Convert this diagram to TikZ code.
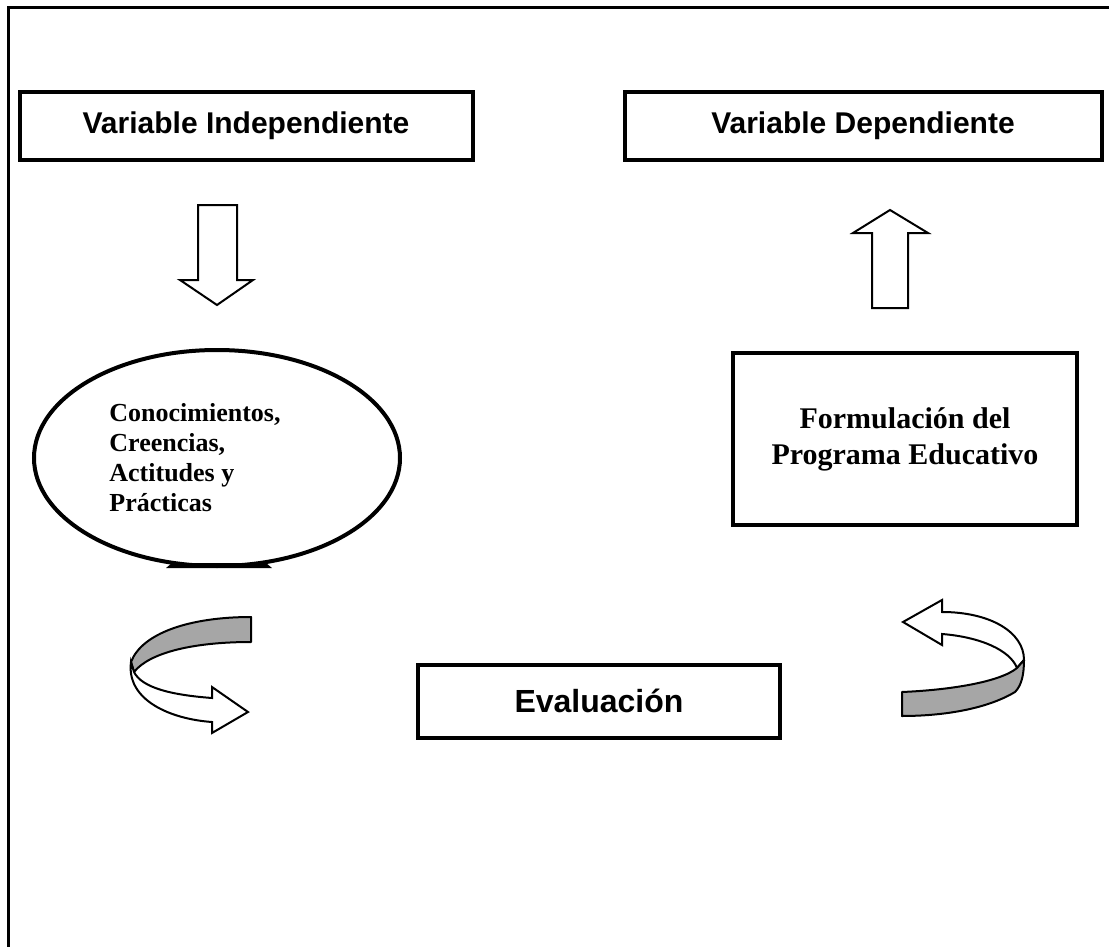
\documentclass[tikz,border=0pt]{standalone}
\usepackage{fontspec}
\setmainfont{Liberation Serif}
\setsansfont{Liberation Sans}
\usetikzlibrary{shapes.geometric}
\tikzset{
  varbox/.style={draw, line width=2pt, rectangle, inner sep=0pt, font=\sffamily\bfseries\fontsize{15}{18}\selectfont},
  progbox/.style={draw, line width=2pt, rectangle, inner sep=0pt, align=center, font=\bfseries\fontsize{15}{18}\selectfont},
  blockarrow/.style={draw, line width=1pt, fill=white, line join=miter},
  ribbongrey/.style={draw, line width=1pt, fill=black!35, line join=round},
  ribbonwhite/.style={draw, line width=1pt, fill=white, line join=miter},
}

\begin{document}
\begin{tikzpicture}[x=0.5pt,y=-0.5pt]
	%%%%% START %%%%%
	\useasboundingbox (0,0) rectangle (1109,947);
	\draw[line width=1.5pt] (8,947) -- (8,8) -- (1109,8);
	
	\node[varbox, minimum width=226.5pt, minimum height=34pt] (indep) at (246,126) {Variable Independiente};
	\node[varbox, minimum width=238.5pt, minimum height=34pt] (dep) at (863,126) {Variable Dependiente};
	
	\draw[blockarrow] (198,205) -- (237,205) -- (237,280) -- (253,280) -- (217,305) -- (180,280) -- (198,280) -- cycle;
	\draw[blockarrow] (872,308) -- (872,233) -- (853,233) -- (890,210) -- (928,233) -- (908,233) -- (908,308) -- cycle;
	
	\node[draw, ellipse, line width=2pt, minimum width=183pt, minimum height=108pt] (saberes) at (217,458) {};
	\fill (166,568) -- (172,563) -- (266,563) -- (272,568) -- cycle;
	\node[align=left, inner sep=0pt, font=\bfseries\fontsize{13}{15}\selectfont] (saberestxt) at (195,458) {Conocimientos,\\Creencias,\\Actitudes y\\Prácticas};
	
	\node[progbox, minimum width=172pt, minimum height=86pt] (programa) at (905,439) {Formulación del\\Programa Educativo};
	
	\node[varbox, minimum width=181pt, minimum height=36.5pt, font=\sffamily\bfseries\fontsize{16}{19}\selectfont] (evalua) at (599,701) {Evaluación};
	
	% left twisted arrow
	\draw[ribbongrey] (251,617) .. controls (190,617) and (142,633) .. (131,662) -- (134,672) .. controls (150,652) and (195,642) .. (251,642) -- cycle;
	\draw[ribbonwhite] (131,662) .. controls (126,700) and (170,719) .. (212,722) -- (212,733) -- (248,712) -- (212,687) -- (212,698) .. controls (172,695) and (142,688) .. (134,672) -- cycle;
	
	% right twisted arrow
	\draw[ribbonwhite] (942,612) .. controls (990,612) and (1024,632) .. (1024,660) -- (1017,668) .. controls (1010,650) and (980,637) .. (942,634) -- (942,645) -- (903,622) -- (942,600) -- cycle;
	\draw[ribbongrey] (1024,660) .. controls (1024,676) and (1021,686) .. (1015,692) .. controls (985,710) and (940,716) .. (902,716) -- (902,692) .. controls (950,690) and (1000,682) .. (1017,668) -- cycle;
	%%%%% END %%%%%
\end{tikzpicture}
\end{document}
